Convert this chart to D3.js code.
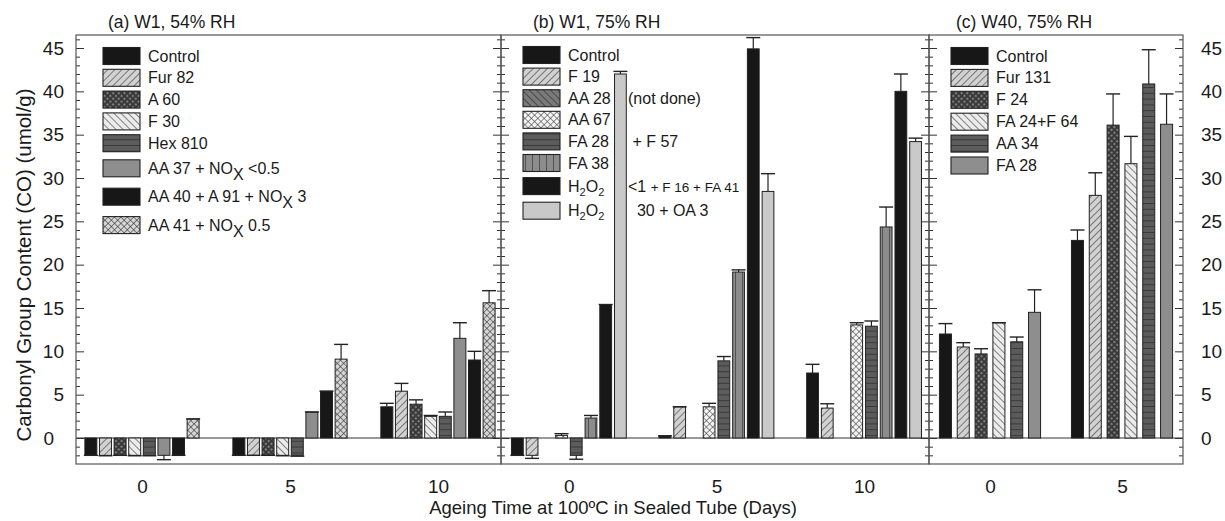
<!DOCTYPE html>
<html>
<head>
<meta charset="utf-8">
<script src="https://cdn.jsdelivr.net/npm/d3@7"></script>
<style>
  body { margin: 0; background: #fff; }
  text { font-family: "Liberation Sans", Arial, Helvetica, sans-serif; fill: #1a1a1a; }
</style>
</head>
<body>
<div id="chart"></div>
<script>
// ---- data ----
const yTicks = [0, 5, 10, 15, 20, 25, 30, 35, 40, 45];

// (a) W1, 54% RH
const daysA = [0, 5, 10];
const seriesA = ['Control', 'Fur 82', 'A 60', 'F 30', 'Hex 810',
  'AA 37 + NO_X <0.5', 'AA 40 + A 91 + NO_X 3', 'AA 41 + NO_X 0.5'];
const valuesA = [
  [-2, -2, 3.6], [-2, -2, 5.4], [-2, -2, 3.9], [-2, -2, 2.5],
  [-2, -2, 2.5], [-2, 3.0, 11.5], [-2, 5.4, 9.0], [2.2, 9.1, 15.6]
];
const errorsA = [
  [-2, -2, 4.0], [-2.05, -2, 6.3], [-2, -2, 4.4], [-2.05, -2.05, 2.6],
  [-2.05, -2.1, 3.0], [-2.5, 3.0, 13.3], [-2, 5.4, 10.0], [2.2, 10.8, 17.0]
];

// (b) W1, 75% RH
const daysB = [0, 5, 10];
const seriesB = ['Control', 'F 19', 'AA 28', 'AA 67', 'FA 28', 'FA 38', 'H_2O_2', 'H_2O_2'];
const notesB = ['', '', '(not done)', '', '\u00a0+ F 57', '', '<1 |+ F 16 + FA 41', '\u00a0\u00a030 + OA 3'];
const valuesB = [
  [-2, 0.25, 7.5], [-2, 3.6, 3.45], [null, null, null], [0.3, 3.6, 13.05],
  [-2, 8.9, 12.9], [2.3, 19.15, 24.35], [15.4, 44.9, 40.0], [42.0, 28.45, 34.2]
];
const errorsB = [
  [-2, 0.25, 8.5], [-2.35, 3.6, 3.95], [null, null, null], [0.5, 4.0, 13.3],
  [-2.45, 9.4, 13.5], [2.6, 19.4, 26.65], [15.4, 46.2, 42.0], [42.3, 30.5, 34.6]
];

// (c) W40, 75% RH
const daysC = [0, 5];
const seriesC = ['Control', 'Fur 131', 'F 24', 'FA 24+F 64', 'AA 34', 'FA 28'];
const valuesC = [
  [12.0, 22.8], [10.5, 28.0], [9.7, 36.1], [13.3, 31.65], [11.1, 40.85], [14.5, 36.2]
];
const errorsC = [
  [13.2, 24.0], [11.0, 30.6], [10.3, 39.7], [13.3, 34.8], [11.65, 44.8], [17.1, 39.7]
];

// ---- styling ----
const fillsA = ['black', 'fwdLight', 'dotDark', 'backLight', 'horizDark', 'gray', 'black', 'crossLight'];
const fillsB = ['black', 'fwdLight', 'backDark', 'crossWhite', 'horizDark', 'vertGray', 'black', 'light'];
const fillsC = ['black', 'fwdLight', 'dotDark', 'backLight', 'horizDark', 'gray'];

const W = 1225, H = 521;
const FONT = '"Liberation Sans", Arial, sans-serif';
const svg = d3.select('#chart').append('svg').attr('width', W).attr('height', H);
const defs = svg.append('defs');

const solid = { black: '#171717', gray: '#8e8e8e', light: '#c9c9c9' };

function linePattern(id, bg, fg, angle, gap, sw, cross) {
  const p = defs.append('pattern').attr('id', id).attr('patternUnits', 'userSpaceOnUse')
    .attr('width', gap).attr('height', gap).attr('patternTransform', `rotate(${angle})`);
  p.append('rect').attr('width', gap).attr('height', gap).attr('fill', bg);
  p.append('line').attr('x1', 0).attr('y1', 0).attr('x2', 0).attr('y2', gap)
    .attr('stroke', fg).attr('stroke-width', sw);
  if (cross) {
    p.append('line').attr('x1', 0).attr('y1', 0).attr('x2', gap).attr('y2', 0)
      .attr('stroke', fg).attr('stroke-width', sw);
  }
}
linePattern('fwdLight', '#d2d2d2', '#2a2a2a', 45, 5, 1.1);
linePattern('backLight', '#ececec', '#2a2a2a', -45, 5, 1.1);
linePattern('backDark', '#7a7a7a', '#222', -45, 5, 1.1);
linePattern('crossLight', '#d6d6d6', '#2a2a2a', 45, 4.5, 1.1, true);
linePattern('crossWhite', '#f4f4f4', '#2a2a2a', 45, 4.5, 1, true);
linePattern('horizDark', '#5c5c5c', '#1e1e1e', 90, 5.8, 1.1);
linePattern('vertGray', '#8c8c8c', '#222', 0, 7, 1.1);
{
  const p = defs.append('pattern').attr('id', 'dotDark').attr('patternUnits', 'userSpaceOnUse')
    .attr('width', 4).attr('height', 4).attr('patternTransform', 'rotate(45)');
  p.append('rect').attr('width', 4).attr('height', 4).attr('fill', '#363636');
  p.append('rect').attr('x', 0.8).attr('y', 0.8).attr('width', 2).attr('height', 2).attr('fill', '#8a8a8a');
}
const fillOf = k => solid[k] || `url(#${k})`;

const y = d3.scaleLinear().domain([-3, 46.5]).range([464, 35]);

const panels = [
  { title: '(a) W1, 54% RH', titleX: 108, days: daysA, series: seriesA, values: valuesA, errors: errorsA,
    fills: fillsA, notes: null, range: [76, 501], domain: [-2.23, 12.13], groupDays: 3.86, pad: 0.18,
    legX: 103, legY: 56, legStep: 21.8, subExtra: 3.3, subSize: 16, subShift: 6 },
  { title: '(b) W1, 75% RH', titleX: 533, days: daysB, series: seriesB, values: valuesB, errors: errorsB,
    fills: fillsB, notes: notesB, range: [501, 929], domain: [-2.3, 12.2], groupDays: 3.89, pad: 0.2,
    legX: 523, legY: 55, legStep: 21.6, subExtra: 1.5, subSize: 11, subShift: 4 },
  { title: '(c) W40, 75% RH', titleX: 956, days: daysC, series: seriesC, values: valuesC, errors: errorsC,
    fills: fillsC, notes: null, range: [929, 1183], domain: [-2.31, 7.31], groupDays: 3.83, pad: 0.326,
    legX: 951, legY: 56, legStep: 21.9, subExtra: 0, subSize: 11, subShift: 4 }
];

function richLabel(sel, str, p) {
  const parts = str.split(/(_\w)/).filter(s => s.length);
  let shifted = false;
  parts.forEach(s => {
    if (s[0] === '_') {
      sel.append('tspan').attr('dy', p.subShift).attr('font-size', p.subSize).text(s.slice(1));
      shifted = true;
    } else {
      const t = sel.append('tspan').text(s);
      if (shifted) { t.attr('dy', -p.subShift); shifted = false; }
    }
  });
}

panels.forEach(p => {
  const g = svg.append('g');
  const x = d3.scaleLinear().domain(p.domain).range(p.range);
  const half = (x(p.groupDays) - x(0)) / 2;
  const band = d3.scaleBand().domain(d3.range(p.series.length)).range([-half, half]).paddingInner(p.pad);

  // zero line
  g.append('line').attr('x1', p.range[0]).attr('x2', p.range[1])
    .attr('y1', y(0)).attr('y2', y(0)).attr('stroke', '#333').attr('stroke-width', 1);

  // ticks on both sides, pointing inward
  const minor = d3.range(-2, 47, 1).filter(v => v % 5 !== 0);
  [[d3.axisLeft, p.range[0]], [d3.axisRight, p.range[1]]].forEach(([ax, xp]) => {
    g.append('g').attr('transform', `translate(${xp},0)`)
      .call(ax(y).tickValues(yTicks).tickSize(-8).tickFormat(''))
      .call(s => s.select('.domain').remove())
      .call(s => s.selectAll('.tick line').attr('stroke', '#333'));
    g.append('g').attr('transform', `translate(${xp},0)`)
      .call(ax(y).tickValues(minor).tickSize(-4).tickFormat(''))
      .call(s => s.select('.domain').remove())
      .call(s => s.selectAll('.tick line').attr('stroke', '#333'));
  });

  // frame
  g.append('rect').attr('x', p.range[0]).attr('y', y.range()[1])
    .attr('width', p.range[1] - p.range[0]).attr('height', y.range()[0] - y.range()[1])
    .attr('fill', 'none').attr('stroke', '#555').attr('stroke-width', 1.2);

  // title
  g.append('text').attr('x', p.titleX).attr('y', 28).attr('font-size', 17.5).text(p.title);

  // x labels
  g.append('g').attr('transform', `translate(0,${y.range()[0]})`)
    .call(d3.axisBottom(x).tickValues(p.days).tickSize(0).tickPadding(16).tickFormat(d3.format('d')))
    .call(s => s.select('.domain').remove())
    .call(s => s.selectAll('.tick text').attr('font-size', 19).attr('fill', '#1a1a1a')
      .attr('font-family', FONT));

  // legend
  const leg = g.append('g');
  let ly = p.legY;
  const hasSub = s => s.includes('_');
  p.series.forEach((name, i) => {
    if (i > 0) ly += p.legStep + (hasSub(name) ? p.subExtra : 0) + (hasSub(p.series[i - 1]) ? p.subExtra : 0);
    leg.append('rect').attr('x', p.legX).attr('y', ly - 8.5).attr('width', 37).attr('height', 17)
      .attr('fill', fillOf(p.fills[i])).attr('stroke', '#222').attr('stroke-width', 1.1);
    const t = leg.append('text').attr('x', p.legX + 45).attr('y', ly + 5.5).attr('font-size', 16);
    richLabel(t, name, p);
    if (p.notes && p.notes[i]) {
      const [big, small] = p.notes[i].split('|');
      const nt = leg.append('text').attr('x', p.legX + 105).attr('y', ly + 5.5).attr('font-size', 16);
      nt.append('tspan').text(big);
      if (small) nt.append('tspan').attr('font-size', 13.5).text(small);
    }
  });

  // bars + error bars
  p.series.forEach((name, si) => {
    p.days.forEach((d, di) => {
      const v = p.values[si][di];
      if (v == null) return;
      const bx = x(d) + band(si);
      const bw = band.bandwidth();
      g.append('rect').attr('x', bx).attr('width', bw)
        .attr('y', y(Math.max(0, v))).attr('height', Math.abs(y(v) - y(0)))
        .attr('fill', fillOf(p.fills[si])).attr('stroke', '#222').attr('stroke-width', 1);
      const e = p.errors[si][di];
      if (e == null) return;
      const cx = bx + bw / 2;
      g.append('line').attr('x1', cx).attr('x2', cx).attr('y1', y(v)).attr('y2', y(e))
        .attr('stroke', '#222').attr('stroke-width', 1.2);
      g.append('line').attr('x1', cx - 7).attr('x2', cx + 7).attr('y1', y(e)).attr('y2', y(e))
        .attr('stroke', '#222').attr('stroke-width', 1.4);
    });
  });
});

// outer y tick labels (left of panel a, right of panel c)
svg.append('g').attr('transform', 'translate(76,0)')
  .call(d3.axisLeft(y).tickValues(yTicks).tickSize(0).tickPadding(12))
  .call(s => s.select('.domain').remove())
  .call(s => s.selectAll('.tick text').attr('font-size', 19).attr('fill', '#1a1a1a')
    .attr('font-family', FONT).attr('dx', d => d === 0 ? -10 : 0));
svg.append('g').attr('transform', 'translate(1183,0)')
  .call(d3.axisRight(y).tickValues(yTicks).tickSize(0).tickPadding(18))
  .call(s => s.select('.domain').remove())
  .call(s => s.selectAll('.tick text').attr('font-size', 19).attr('fill', '#1a1a1a')
    .attr('font-family', FONT));

// axis titles
svg.append('text').attr('x', 613).attr('y', 514).attr('text-anchor', 'middle').attr('font-size', 18.5)
  .text('Ageing Time at 100ºC in Sealed Tube (Days)');
svg.append('text').attr('transform', 'rotate(-90)').attr('x', -265).attr('y', 31)
  .attr('text-anchor', 'middle').attr('font-size', 20.5)
  .text('Carbonyl Group Content (CO) (umol/g)');
</script>
</body>
</html>
